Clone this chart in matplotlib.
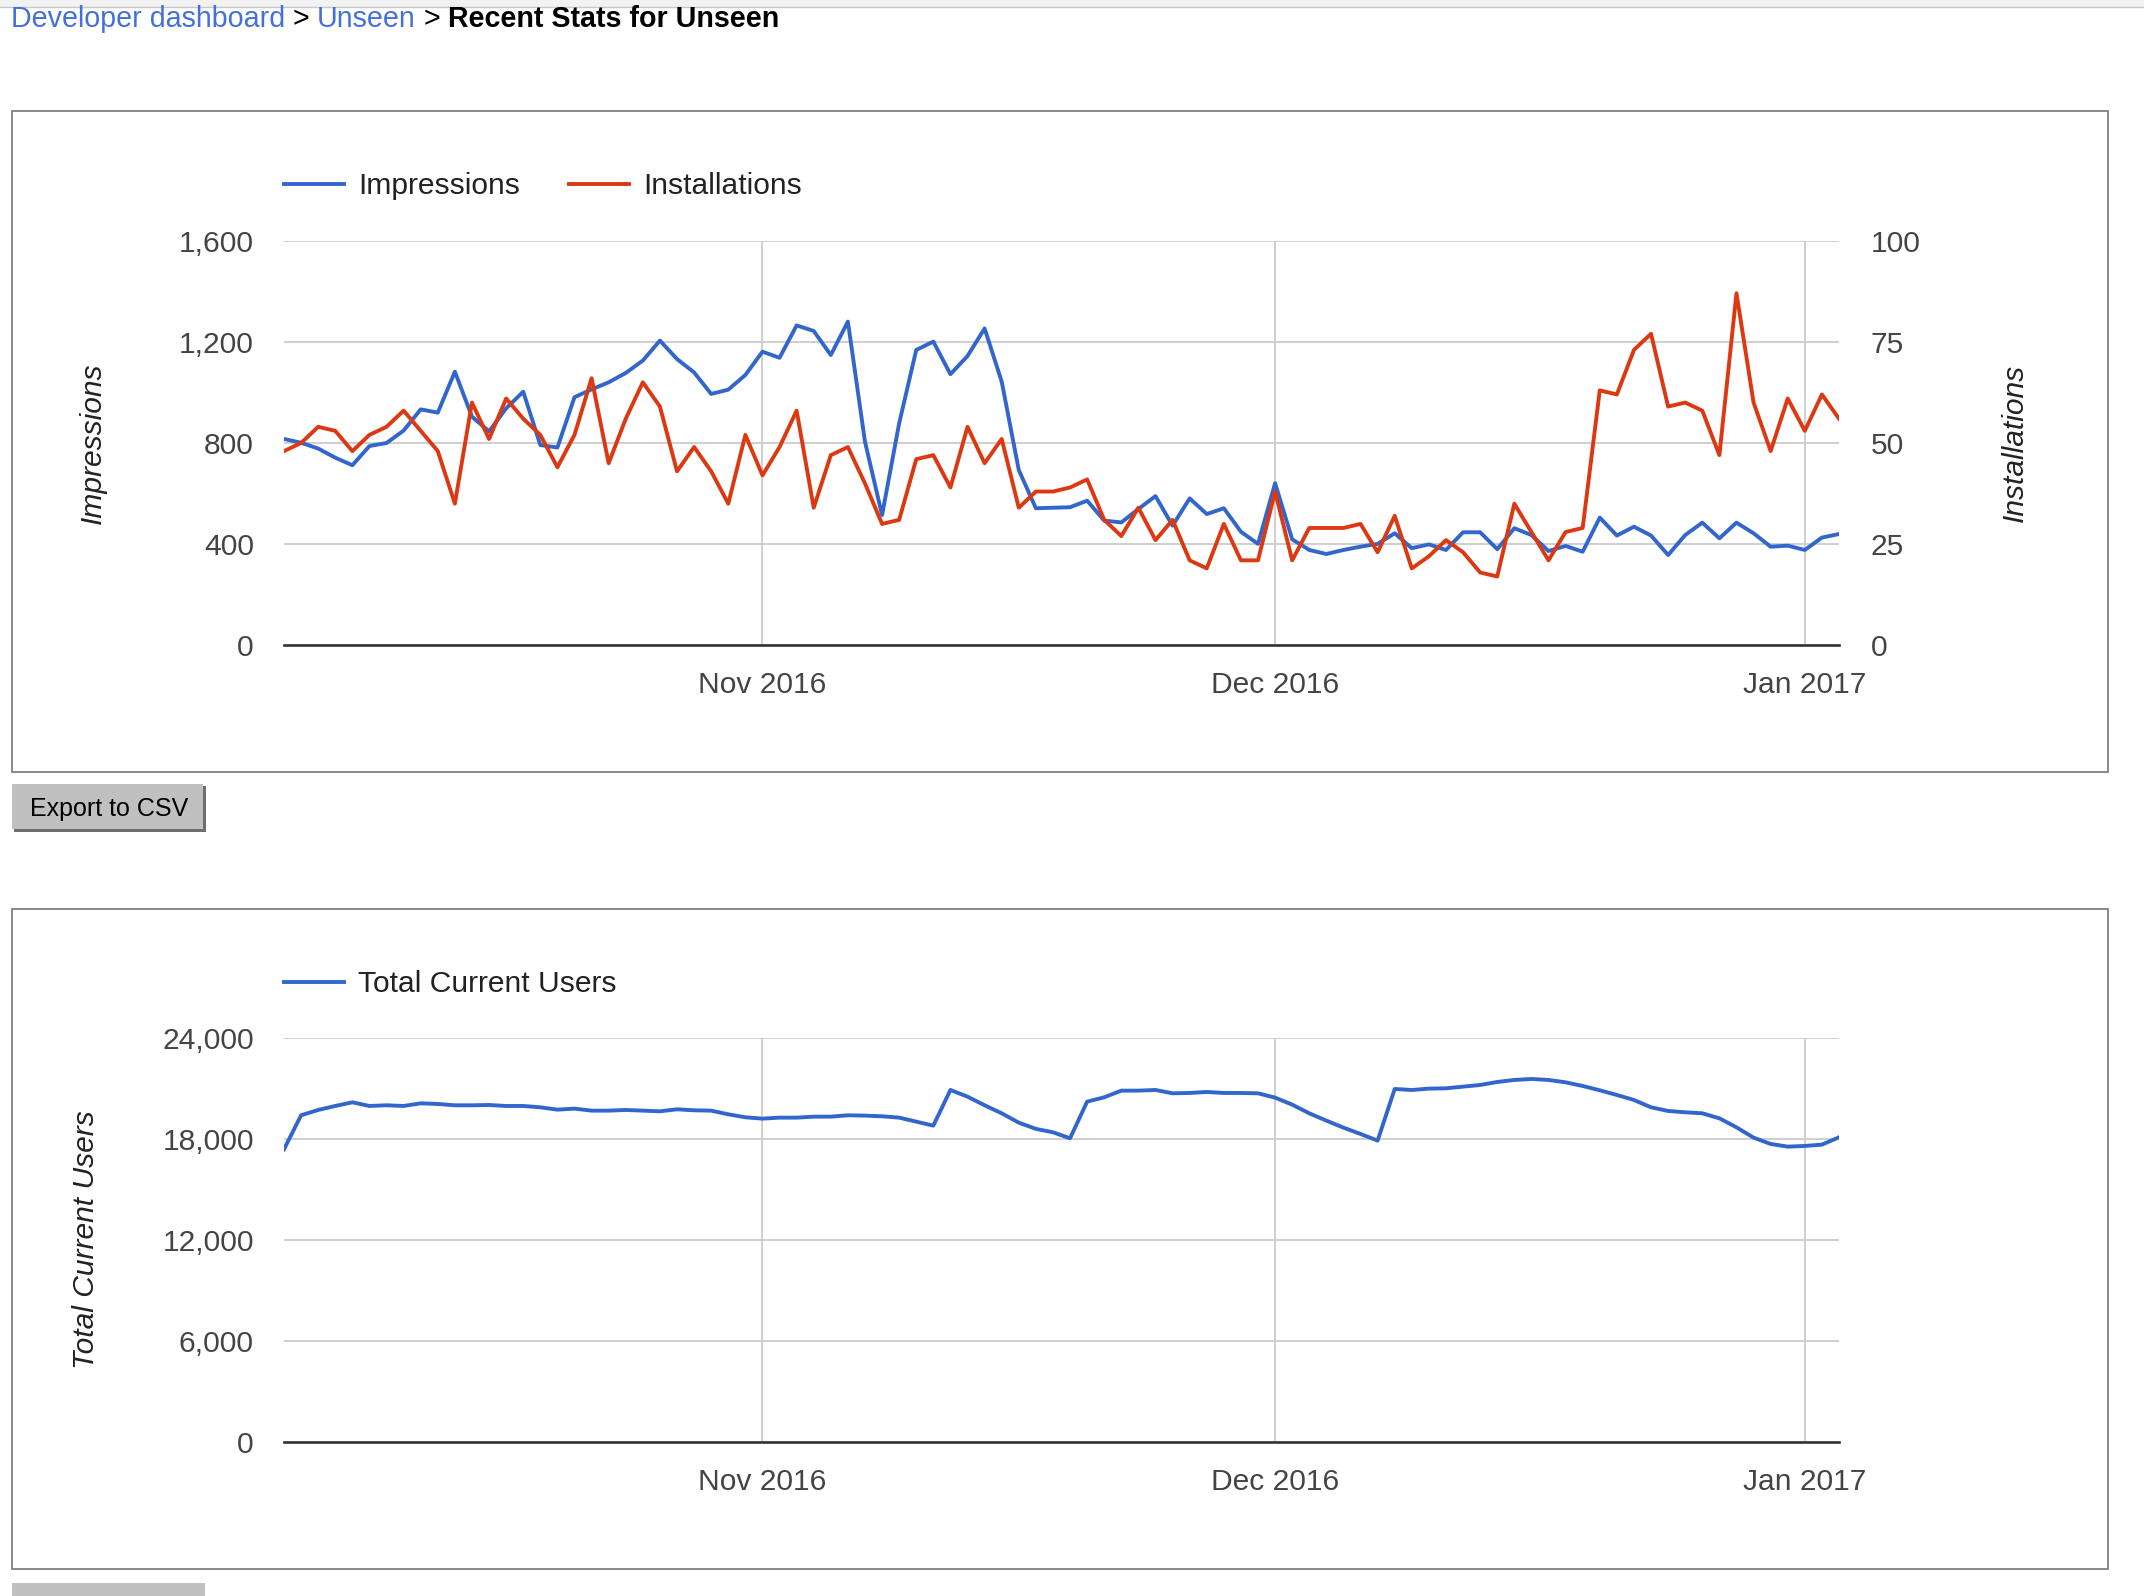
import matplotlib
matplotlib.use("Agg")
import matplotlib.pyplot as plt
import matplotlib.dates as mdates
import pandas as pd
from matplotlib.patches import Rectangle
from matplotlib.lines import Line2D

plt.rcParams["font.family"] = ["Liberation Sans", "DejaVu Sans"]

# ── data (daily, 4 Oct 2016 .. 3 Jan 2017) ──
dates = pd.date_range("2016-10-04", periods=92, freq="D")

impressions = [
    816, 801, 778, 742, 712, 788, 800, 849, 933, 920,
    1082, 904, 846, 937, 1003, 792, 782, 981, 1012, 1040,
    1077, 1126, 1205, 1132, 1079, 994, 1011, 1069, 1161, 1137,
    1265, 1243, 1148, 1280, 805, 515, 878, 1168, 1201, 1072,
    1144, 1253, 1043, 693, 542, 544, 546, 572, 493, 486,
    539, 590, 473, 581, 519, 542, 449, 401, 641,
    419, 377, 361, 377, 390, 401, 443, 384, 399, 377,
    447, 447, 380, 463, 436, 373, 393, 370, 505, 434,
    469, 434, 357, 436, 485, 423, 485, 443, 390, 394,
    377, 426, 440,
]

installations = [
    48, 50, 54, 53, 48, 52, 54, 58, 53, 48,
    35, 60, 51, 61, 56, 52, 44, 52, 66, 45,
    56, 65, 59, 43, 49, 43, 35, 52, 42, 49,
    58, 34, 47, 49, 40, 30, 31, 46, 47, 39,
    54, 45, 51, 34, 38, 38, 39, 41, 31, 27,
    34, 26, 31, 21, 19, 30, 21, 21, 38,
    21, 29, 29, 29, 30, 23, 32, 19, 22, 26,
    23, 18, 17, 35, 28, 21, 28, 29, 63, 62,
    73, 77, 59, 60, 58, 47, 87, 60, 48, 61,
    53, 62, 56,
]

total_users = [
    17406, 19426, 19742, 19980, 20198, 19980, 20020, 19980, 20138, 20099,
    20020, 20020, 20039, 19980, 19980, 19901, 19762, 19822, 19703, 19703,
    19742, 19703, 19663,
    19782, 19723, 19703, 19485, 19307, 19228, 19287, 19287, 19346, 19346,
    19426, 19406, 19366, 19287, 19049, 18812, 20930, 20534, 20020, 19544,
    18990, 18620,
    18416, 18059, 20237, 20495, 20891, 20891, 20930, 20732, 20752, 20812,
    20752, 20752, 20732, 20475, 20059, 19544, 19109, 18693, 18317, 17921,
    20990, 20930,
    21010, 21029, 21128, 21227, 21405, 21524, 21584, 21524, 21385, 21168,
    20911, 20633, 20336, 19901, 19683, 19604, 19544, 19247, 18713, 18099,
    17723, 17564, 17604, 17683, 18119,
]

impr_ticks = [0, 400, 800, 1200, 1600]
inst_ticks = [0, 25, 50, 75, 100]
user_ticks = [0, 6000, 12000, 18000, 24000]

BLUE = "#3366cc"
RED = "#dc3912"
LINK = "#4470dc"
FS = 21.6      # chart text (~30 px)
CRUMB_FS = 20.6
LW = 2.8

W, H = 2144, 1596
fig = plt.figure(figsize=(W / 100, H / 100), dpi=100)


def fx(px):
    return px / W


def fy(py):
    return 1 - py / H


def style_axis(ax, ticks):
    ax.set_xlim(dates[0], dates[-1])
    ax.set_ylim(ticks[0], ticks[-1])
    ax.set_yticks(ticks)
    ax.yaxis.set_major_formatter(plt.FuncFormatter(lambda v, p: f"{int(v):,}"))
    ax.xaxis.set_major_locator(mdates.MonthLocator())
    ax.xaxis.set_major_formatter(mdates.DateFormatter("%b %Y"))
    ax.grid(True, color="#cccccc", lw=1.3)
    ax.set_axisbelow(True)
    for s in ["top", "left", "right"]:
        ax.spines[s].set_visible(False)
    ax.spines["bottom"].set_color("#333333")
    ax.spines["bottom"].set_linewidth(1.9)
    ax.tick_params(axis="y", length=0, pad=21.6, labelsize=FS, labelcolor="#444444")
    ax.tick_params(axis="x", length=0, pad=18.7, labelsize=FS, labelcolor="#444444")


def panel(top, bottom):
    fig.patches.append(Rectangle((fx(12), fy(bottom)), fx(2108) - fx(12), (bottom - top) / H,
                                 transform=fig.transFigure, fill=False,
                                 edgecolor="#808080", lw=1.3))


# ── page chrome ──
fig.patches.append(Rectangle((0, fy(7)), 1, 7 / H, transform=fig.transFigure,
                             facecolor="#f2f2f2", edgecolor="none"))
fig.add_artist(Line2D([0, 1], [fy(7), fy(7)], color="#c8c8c8", lw=1))

crumb_y = fy(27)
fig.text(fx(11), crumb_y, "Developer dashboard", color=LINK, fontsize=CRUMB_FS, va="baseline")
fig.text(fx(293), crumb_y, ">", color="black", fontsize=CRUMB_FS, va="baseline")
fig.text(fx(317), crumb_y, "Unseen", color=LINK, fontsize=CRUMB_FS, va="baseline")
fig.text(fx(424), crumb_y, ">", color="black", fontsize=CRUMB_FS, va="baseline")
fig.text(fx(448), crumb_y, "Recent Stats for Unseen", color="black", fontsize=CRUMB_FS,
         fontweight="bold", va="baseline")

panel(111, 772)
panel(909, 1569)

# Export button + sliver of the next one
fig.patches.append(Rectangle((fx(14), fy(832)), (206 - 14) / W, (832 - 786) / H,
                             transform=fig.transFigure, facecolor="#6e6e6e", edgecolor="none"))
fig.patches.append(Rectangle((fx(12), fy(829)), (203 - 12) / W, (829 - 784) / H,
                             transform=fig.transFigure, facecolor="#c0c0c0", edgecolor="none"))
fig.text(fx(109), fy(816), "Export to CSV", fontsize=18, color="black", ha="center", va="baseline")
fig.patches.append(Rectangle((fx(12), 0), (205 - 12) / W, (1596 - 1583) / H,
                             transform=fig.transFigure, facecolor="#c0c0c0", edgecolor="none"))

# ── top chart: impressions / installations ──
ax1 = fig.add_axes([fx(284), fy(645.3), fx(1839) - fx(284), (645.3 - 240.7) / H])
style_axis(ax1, impr_ticks)
ax1.plot(dates, impressions, color=BLUE, lw=LW)

ax1r = ax1.twinx()
ax1r.set_ylim(inst_ticks[0], inst_ticks[-1])
ax1r.set_yticks(inst_ticks)
for s in ax1r.spines.values():
    s.set_visible(False)
ax1r.tick_params(axis="y", length=0, pad=23, labelsize=FS, labelcolor="#444444")
ax1r.plot(dates, installations, color=RED, lw=LW)

fig.legend(handles=[Line2D([], [], color=BLUE, lw=LW), Line2D([], [], color=RED, lw=LW)],
           labels=["Impressions", "Installations"], loc="center left",
           bbox_to_anchor=(fx(284), fy(186)), bbox_transform=fig.transFigure,
           ncol=2, frameon=False, fontsize=FS, handlelength=2.0, handletextpad=0.47,
           columnspacing=1.63, borderpad=0, borderaxespad=0, labelcolor="#222222")

fig.text(fx(93), fy(443), "Impressions", rotation=90, style="italic", fontsize=FS,
         color="#222222", ha="center", va="center")
fig.text(fx(2015), fy(443), "Installations", rotation=90, style="italic", fontsize=FS,
         color="#222222", ha="center", va="center")

# ── bottom chart: total current users ──
ax2 = fig.add_axes([fx(284), fy(1442.3), fx(1839) - fx(284), (1442.3 - 1038.3) / H])
style_axis(ax2, user_ticks)
ax2.plot(dates, total_users, color=BLUE, lw=LW)

fig.legend(handles=[Line2D([], [], color=BLUE, lw=LW)], labels=["Total Current Users"],
           loc="center left", bbox_to_anchor=(fx(284), fy(984.5)),
           bbox_transform=fig.transFigure, frameon=False, fontsize=FS,
           handlelength=2.0, handletextpad=0.47, borderpad=0, borderaxespad=0,
           labelcolor="#222222")

fig.text(fx(86), fy(1240), "Total Current Users", rotation=90, style="italic", fontsize=FS,
         color="#222222", ha="center", va="center")

fig.savefig("out.png", dpi=100)
